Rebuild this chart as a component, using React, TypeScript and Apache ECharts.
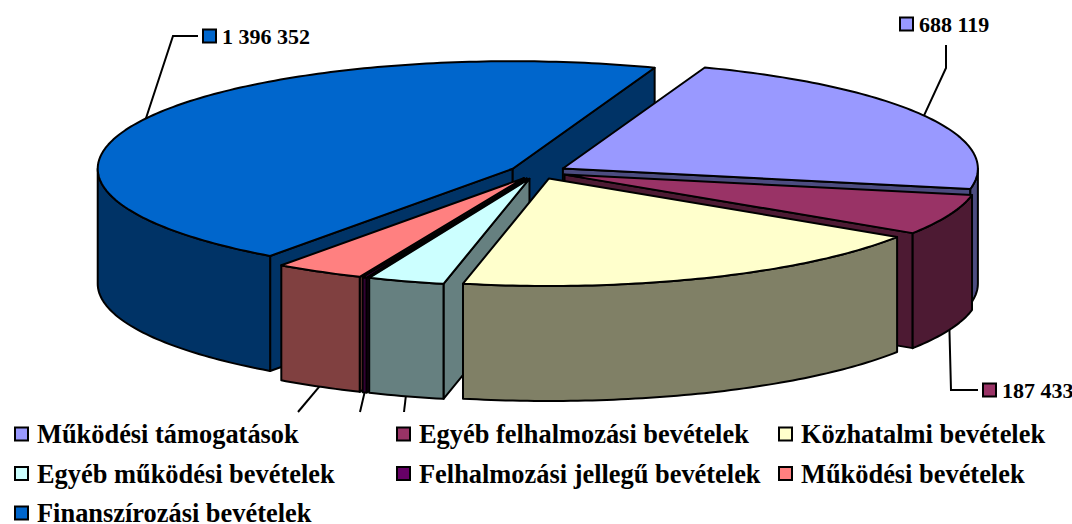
import React, { useEffect, useRef } from "react";
import * as echarts from "echarts";

// Data (in clockwise order from the first slice)
const categories = [
  "Működési támogatások",
  "Egyéb felhalmozási bevételek",
  "Közhatalmi bevételek",
  "Egyéb működési bevételek",
  "Felhalmozási jellegű bevételek",
  "Működési bevételek",
  "Finanszírozási bevételek",
];
const values = [688119, 187433, 586500, 91500, 5000, 106000, 1396352];
const topColors = ["#9999FF", "#993366", "#FFFFCC", "#CCFFFF", "#660066", "#FF8080", "#0066CC"];
const sideColors = ["#4C4C80", "#4D1A33", "#808066", "#668080", "#330033", "#804040", "#003366"];
const legendColumns = [
  [categories[0], categories[3], categories[6]],
  [categories[1], categories[4]],
  [categories[2], categories[5]],
];
const drawOrder = [6, 0, 1, 5, 4, 3, 2];

// Layout
const CX = 538, CY = 172, RX = 415, RY = 107.5, DEPTH = 115, EX = 28.6, EY = 7, START = 70;
const FONT = "Liberation Serif";
type Callout = { via: number[][]; box?: number[] };
const callouts: Record<number, Callout> = {
  0: { via: [[946, 68], [946, 45]], box: [900, 24] },
  1: { via: [[951, 390], [978, 390]], box: [983, 390] },
  3: { via: [[404, 412]] },
  4: { via: [[360, 412]] },
  5: { via: [[298, 412]] },
  6: { via: [[173, 36], [198, 36]], box: [203, 36] },
};

const total = values.reduce((a, b) => a + b, 0);
const rad = (d: number) => (d * Math.PI) / 180;
const fmt = (v: number) => String(v).replace(/\B(?=(\d{3})+$)/g, " ");

function sliceAngles(i: number) {
  const before = values.slice(0, i).reduce((a, b) => a + b, 0);
  const a = START - (before / total) * 360;
  const b = a - (values[i] / total) * 360;
  return [a, b];
}

function arcAngles(a: number, b: number) {
  const list: number[] = [a];
  for (let t = Math.floor(a); t > b; t -= 1) if (t !== a) list.push(t);
  list.push(b);
  return list;
}

function renderSlice(i: number, value: number) {
  const [a, b] = sliceAngles(i);
  const mid = (a + b) / 2;
  const ox = CX + EX * Math.cos(rad(mid));
  const oy = CY - EY * Math.sin(rad(mid));
  const px = (t: number, dz = 0) => [ox + RX * Math.cos(rad(t)), oy - RY * Math.sin(rad(t)) + dz];
  const line = { stroke: "#000", lineWidth: 2, lineJoin: "round" };
  const poly = (points: number[][], fill: string) => ({
    type: "polygon",
    shape: { points },
    style: { fill, ...line },
    silent: true,
  });
  const children: any[] = [];
  const ts = arcAngles(a, b);
  const wall = (t: number) => [[ox, oy], px(t), px(t, DEPTH), [ox, oy + DEPTH]];
  // only the cut faces that look towards the viewer are drawn
  if (Math.cos(rad(a)) < 0) children.push(poly(wall(a), sideColors[i]));
  if (Math.cos(rad(b)) > 0) children.push(poly(wall(b), sideColors[i]));
  const front = ts.filter((t) => Math.sin(rad(t)) <= 1e-6);
  if (front.length > 1) {
    children.push(
      poly([...front.map((t) => px(t)), ...front.slice().reverse().map((t) => px(t, DEPTH))], sideColors[i])
    );
  }
  children.push(poly([[ox, oy], ...ts.map((t) => px(t))], topColors[i]));

  const c = callouts[i];
  if (c) {
    const anchor = px(mid, Math.sin(rad(mid)) < 0 ? DEPTH : 0);
    children.unshift({
      type: "polyline",
      shape: { points: [anchor, ...c.via] },
      style: { stroke: "#000", lineWidth: 2, fill: "none" },
      silent: true,
    });
    if (c.box) {
      children.push({
        type: "rect",
        shape: { x: c.box[0], y: c.box[1] - 6.5, width: 13, height: 13 },
        style: { fill: topColors[i], stroke: "#000", lineWidth: 2 },
        silent: true,
      });
      children.push({
        type: "text",
        style: {
          text: fmt(value),
          x: c.box[0] + 19,
          y: c.box[1],
          verticalAlign: "middle",
          align: "left",
          fill: "#000",
          font: `bold 22px "${FONT}"`,
        },
        silent: true,
      });
    }
  }
  return { type: "group", children };
}

export default function App() {
  const ref = useRef<HTMLDivElement>(null);
  useEffect(() => {
    const chart = echarts.init(ref.current!, null, { renderer: "svg" });
    const legendLeft = [14, 396, 778];
    chart.setOption({
      animation: false,
      backgroundColor: "#fff",
      legend: legendColumns.map((names, k) => ({
        show: true,
        orient: "vertical",
        left: legendLeft[k],
        top: 421,
        height: 300,
        padding: 0,
        itemWidth: 13,
        itemHeight: 13,
        itemGap: 13.5,
        selectedMode: false,
        icon: "rect",
        z: 30,
        textStyle: {
          fontFamily: FONT,
          fontWeight: "bold",
          fontSize: 26.4,
          lineHeight: 26,
          color: "#000",
          padding: [0, 0, 0, 4],
        },
        data: names.map((name) => {
          const i = categories.indexOf(name);
          return {
            name,
            icon: "rect",
            itemStyle: { color: topColors[i], borderColor: "#000", borderWidth: 2 },
          };
        }),
      })),
      series: drawOrder.map((i, order) => ({
        type: "custom",
        name: categories[i],
        coordinateSystem: "none",
        z: 2 + order,
        silent: true,
        itemStyle: { color: topColors[i] },
        data: [[values[i]]],
        renderItem: (_p: any, api: any) => renderSlice(i, api.value(0)),
      })),
    });
    return () => chart.dispose();
  }, []);
  return (
    <div
      ref={ref}
      style={{ position: "fixed", left: 0, top: 0, width: 1072, height: 524, background: "#fff" }}
    />
  );
}
